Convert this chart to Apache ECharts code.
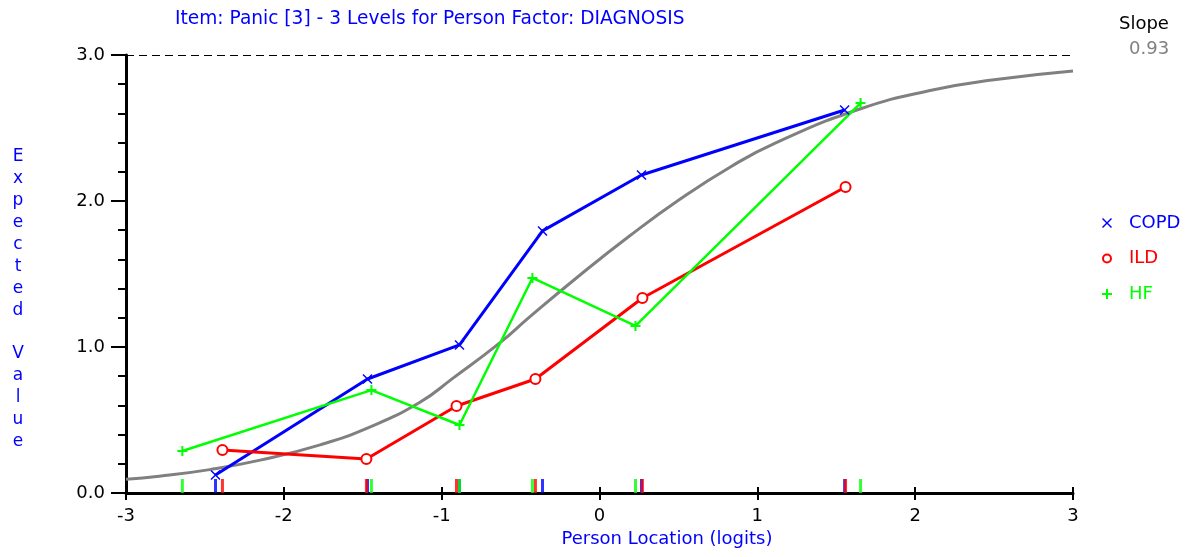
<!DOCTYPE html>
<html><head><meta charset="utf-8">
<script src="https://cdn.jsdelivr.net/npm/echarts@6/dist/echarts.min.js"></script>
<style>html,body{margin:0;padding:0;background:#fff}#c{width:1190px;height:557px}</style>
</head><body><div id="c"></div>
<script>
// Data
const titleText = 'Item: Panic [3] - 3 Levels for Person Factor: DIAGNOSIS';
const groupNames = ['COPD', 'ILD', 'HF'];

const copdX = [-2.433, -1.470, -0.887, -0.361, 0.266, 1.553];
const copdY = [0.123, 0.781, 1.014, 1.795, 2.178, 2.623];
const ildX  = [-2.389, -1.477, -0.906, -0.406, 0.272, 1.559];
const ildY  = [0.295, 0.233, 0.596, 0.781, 1.336, 2.096];
const hfX   = [-2.643, -1.445, -0.887, -0.425, 0.228, 1.654];
const hfY   = [0.288, 0.705, 0.466, 1.473, 1.144, 2.671];

const curveX = [-3, -2.79, -2.47, -2.15, -1.77, -1.46, -1.14, -0.93, -0.63, -0.444, -0.127, 0.19, 0.507, 0.824, 1.12, 1.65, 2.11, 2.5, 3];
const curveY = [0.095, 0.115, 0.16, 0.225, 0.33, 0.45, 0.62, 0.785, 1.03, 1.205, 1.49, 1.76, 2.01, 2.23, 2.40, 2.63, 2.76, 2.83, 2.89];

const slopeValue = '0.93';

const FONT = "'DejaVu Sans', Verdana, sans-serif";
const BLUE = '#0000ff', RED = '#ff0000', GREEN = '#00ff00', GRAY = '#808080';
const SYM_X = 'path://M1,0 L5,4 L9,0 L10,1 L6,5 L10,9 L9,10 L5,6 L1,10 L0,9 L4,5 L0,1 Z';
const SYM_PLUS = 'path://M4,0 H6 V4 H10 V6 H6 V10 H4 V6 H0 V4 H4 Z';
const SYM_RING = 'path://M5,0 A5,5 0 1,1 5,10 A5,5 0 1,1 5,0 Z M5,2 A3,3 0 1,0 5,8 A3,3 0 1,0 5,2 Z';

const zip = (xs, ys) => xs.map((x, i) => [x, ys[i]]);
const ticksAt = xs => xs.map(x => [x, 0]);

function lineSeries(name, xs, ys, color, symbol, size, width) {
  return {
    name, type: 'line', data: zip(xs, ys), symbol, symbolSize: size,
    showAllSymbol: true, z: 4,
    lineStyle: { color, width },
    itemStyle: symbol === 'emptyCircle'
      ? { color: color, borderColor: color, borderWidth: 2 }
      : { color: color, borderColor: color, borderWidth: 0 },
    emphasis: { disabled: true }
  };
}
function tickSeries(name, xs, color) {
  return {
    name, type: 'scatter', data: ticksAt(xs), symbol: 'rect', symbolSize: [3, 14],
    symbolOffset: [0, -7], clip: false, z: 5, itemStyle: { color }, emphasis: { disabled: true }
  };
}

const chart = echarts.init(document.getElementById('c'), null, { renderer: 'canvas' });
chart.setOption({
  animation: false,
  backgroundColor: '#fff',
  textStyle: { fontFamily: FONT },
  title: {
    text: titleText, left: 170, top: 5,
    textStyle: { color: BLUE, fontSize: 18.6, fontWeight: 'normal', fontFamily: FONT }
  },
  grid: { left: 126, right: 117, top: 55, bottom: 64, containLabel: false },
  legend: {
    orient: 'vertical', left: 1097, top: 209, itemWidth: 10, itemHeight: 10, itemGap: 17.5,
    textStyle: { fontSize: 18, fontFamily: FONT, padding: [0, 0, 0, 12] },
    selectedMode: false,
    data: [
      { name: groupNames[0], icon: SYM_X, itemStyle: { color: BLUE, borderWidth: 0 }, textStyle: { color: BLUE } },
      { name: groupNames[1], icon: SYM_RING, itemStyle: { color: RED, borderWidth: 0 }, textStyle: { color: RED } },
      { name: groupNames[2], icon: SYM_PLUS, itemStyle: { color: GREEN, borderWidth: 0 }, textStyle: { color: GREEN } }
    ]
  },
  xAxis: [{
    type: 'value', min: -3, max: 3, interval: 1,
    axisLine: { show: true, onZero: false, lineStyle: { color: '#000', width: 3 } },
    axisTick: { show: true, length: 7, lineStyle: { color: '#000', width: 2 } },
    axisLabel: { color: '#000', fontSize: 18, margin: 14, fontFamily: FONT },
    splitLine: { show: false }
  }, {
    type: 'value', min: -3, max: 3, interval: 1, position: 'bottom',
    axisLine: { show: false },
    axisTick: { show: true, inside: true, length: 6, lineStyle: { color: '#000', width: 2 } },
    axisLabel: { show: false }, splitLine: { show: false }
  }],
  yAxis: {
    type: 'value', min: 0, max: 3, interval: 1,
    axisLine: { show: true, onZero: false, lineStyle: { color: '#000', width: 3 } },
    axisTick: { show: true, length: 15, lineStyle: { color: '#000', width: 2 } },
    minorTick: { show: true, splitNumber: 5, length: 8, lineStyle: { color: '#000', width: 2 } },
    axisLabel: { color: '#000', fontSize: 18, margin: 21, fontFamily: FONT, formatter: v => v.toFixed(1) },
    splitLine: { show: false }
  },
  series: [
    {
      name: 'Expected', type: 'line', data: zip(curveX, curveY), symbol: 'none', smooth: 0.5,
      z: 3, lineStyle: { color: GRAY, width: 3 }, emphasis: { disabled: true },
      markLine: {
        silent: true, symbol: 'none', label: { show: false },
        lineStyle: { color: '#000', width: 1, type: [8, 5] },
        data: [{ yAxis: 3 }]
      }
    },
    lineSeries(groupNames[0], copdX, copdY, BLUE, SYM_X, 10, 3),
    lineSeries(groupNames[1], ildX, ildY, RED, 'emptyCircle', 10, 3),
    lineSeries(groupNames[2], hfX, hfY, GREEN, SYM_PLUS, 10, 2.5),
    tickSeries('COPD loc', copdX, BLUE),
    tickSeries('ILD loc', ildX, RED),
    tickSeries('HF loc', hfX, GREEN)
  ],
  graphic: [
    { type: 'text', left: 1119, top: 15, style: { text: 'Slope', fill: '#000', font: '18px ' + FONT } },
    { type: 'text', left: 1129, top: 40, style: { text: slopeValue, fill: GRAY, font: '18px ' + FONT } },
    { type: 'text', x: 18, y: 146, style: { text: 'E\nx\np\ne\nc\nt\ne\nd\n\nV\na\nl\nu\ne', fill: BLUE, font: '17px ' + FONT, align: 'center', lineHeight: 21.9 } },
    { type: 'text', x: 667, y: 530, style: { text: 'Person Location (logits)', fill: BLUE, font: '18px ' + FONT, align: 'center' } }
  ]
});
</script></body></html>
